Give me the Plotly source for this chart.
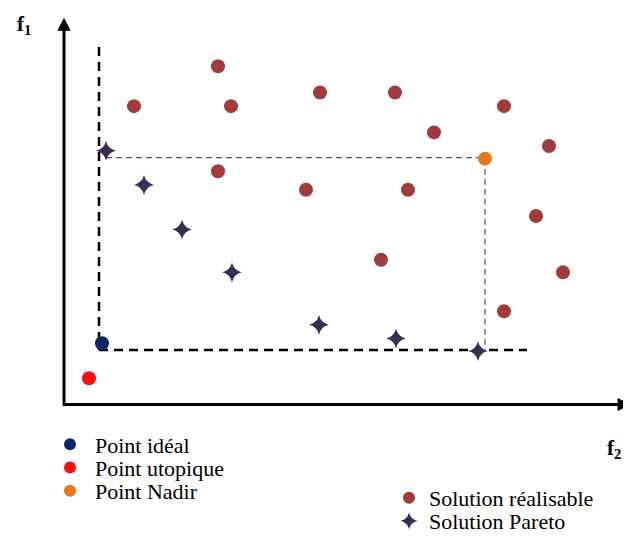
import plotly.graph_objects as go

# Data (f2 horizontal, f1 vertical), origin at axis corner
feas_x = [154, 70, 167, 256, 331, 440, 370, 485, 154, 242, 344, 472, 317, 499, 440]
feas_y = [348, 307, 307, 321, 321, 307, 280, 266, 240, 221, 221, 194, 149, 136, 96]
pareto_x = [42, 80, 118, 168, 255, 332, 414]
pareto_y = [261, 226, 180, 136, 82, 68, 55]
ideal = (38, 63)
utopia = (25, 27)
nadir = (421, 253)
vert_black_x = [35, 35]
vert_black_y = [368, 56]
horiz_black_x = [35, 463]
horiz_black_y = [56, 56]
gray_h_x = [42, 421]
gray_h_y = [254, 254]
gray_v_x = [421, 421]
gray_v_y = [253, 56]

FONT = "Liberation Serif"
fig = go.Figure()

fig.add_trace(go.Scatter(x=vert_black_x, y=vert_black_y, mode="lines",
                         line=dict(color="black", width=2.5, dash="9px,6px"), showlegend=False, hoverinfo="skip"))
fig.add_trace(go.Scatter(x=horiz_black_x, y=horiz_black_y, mode="lines",
                         line=dict(color="black", width=2.5, dash="9px,6px"), showlegend=False, hoverinfo="skip"))
fig.add_trace(go.Scatter(x=gray_h_x, y=gray_h_y, mode="lines",
                         line=dict(color="#555555", width=1.2, dash="6px,4px"), showlegend=False, hoverinfo="skip"))
fig.add_trace(go.Scatter(x=gray_v_x, y=gray_v_y, mode="lines",
                         line=dict(color="#777777", width=1.5, dash="6px,4px"), showlegend=False, hoverinfo="skip"))

fig.add_trace(go.Scatter(x=[ideal[0]], y=[ideal[1]], mode="markers", name="Point idéal",
                         marker=dict(color="#0d2466", size=14), legend="legend"))
fig.add_trace(go.Scatter(x=[utopia[0]], y=[utopia[1]], mode="markers", name="Point utopique",
                         marker=dict(color="#ff0d0d", size=14), legend="legend2"))
fig.add_trace(go.Scatter(x=[nadir[0]], y=[nadir[1]], mode="markers", name="Point Nadir",
                         marker=dict(color="#e8771c", size=14), legend="legend3"))
fig.add_trace(go.Scatter(x=feas_x, y=feas_y, mode="markers", name="Solution réalisable",
                         marker=dict(color="#a23b3b", size=14), legend="legend4"))
fig.add_trace(go.Scatter(x=pareto_x, y=pareto_y, mode="markers", name="Solution Pareto",
                         marker=dict(color="#3a2d55", size=14, symbol="star-diamond"), legend="legend5"))

# Axes with arrowheads (shapes)
fig.add_shape(type="line", x0=0, y0=-1, x1=0, y1=388, xref="x", yref="y",
              line=dict(color="black", width=3))
fig.add_shape(type="path", path="M 0 397 L -6 385 L 6 385 Z", xref="x", yref="y",
              fillcolor="black", line=dict(color="black", width=1))
fig.add_shape(type="line", x0=-1, y0=0, x1=556, y1=0, xref="x", yref="y",
              line=dict(color="black", width=3))
fig.add_shape(type="path", path="M 566 0 L 554 6 L 554 -6 Z", xref="x", yref="y",
              fillcolor="black", line=dict(color="black", width=1))

fig.add_annotation(x=-40, y=391, xref="x", yref="y", text="<b>f<sub>1</sub></b>", showarrow=False,
                   font=dict(family=FONT, size=21, color="black"))
fig.add_annotation(x=550, y=-46, xref="x", yref="y", text="<b>f<sub>2</sub></b>", showarrow=False,
                   font=dict(family=FONT, size=21, color="black"))

W, H = 623, 534


def leg(xpx, ypx, iw):
    return dict(x=xpx / W, y=1 - ypx / H, xanchor="left", yanchor="middle",
                bgcolor="rgba(0,0,0,0)", itemwidth=iw, itemsizing="constant",
                font=dict(family=FONT, size=22, color="black"))


fig.update_layout(
    width=W, height=H, margin=dict(l=0, r=0, t=0, b=0),
    paper_bgcolor="white", plot_bgcolor="white",
    xaxis=dict(range=[-56, 567], visible=False, fixedrange=True),
    yaxis=dict(range=[-126, 408], visible=False, fixedrange=True),
    font=dict(family=FONT, size=22, color="black"),
    legend=leg(37, 449, 40),
    legend2=leg(37, 473, 40),
    legend3=leg(37, 497, 40),
    legend4=leg(381, 504, 30),
    legend5=leg(381, 528, 30),
)

fig.write_html("out.html")
